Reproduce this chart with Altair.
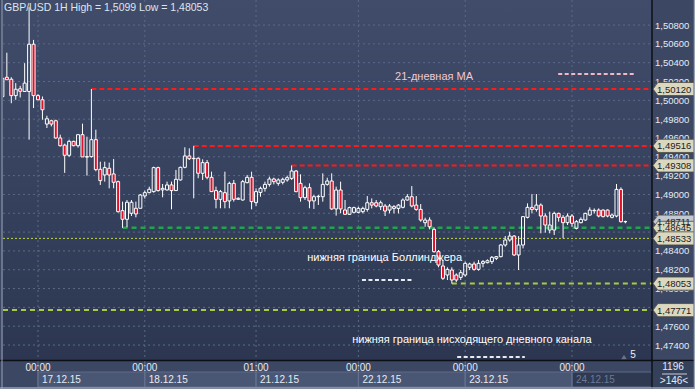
import altair as alt
import pandas as pd

# ---------------- data ----------------
opens = [1.50039,1.50245,1.50224,1.50050,1.50123,1.50094,1.50094,1.50596,1.50050,1.50006,
         1.49748,1.49783,1.49783,1.49600,1.49524,1.49416,1.49564,1.49518,1.49635,1.49402,
         1.49402,1.49582,1.49267,1.49207,1.49278,1.49218,1.49136,1.48828,1.48736,1.48800,
         1.48853,1.48853,1.48984,1.49019,1.49030,1.49285,1.49048,1.49048,1.49101,1.49041,
         1.49154,1.49288,1.49409,1.49384,1.49384,1.49225,1.49338,1.49182,1.49041,1.48948,
         1.49019,1.48931,1.49118,1.48948,1.48941,1.49125,1.49182,1.48913,1.49022,1.49065,
         1.49107,1.49164,1.49118,1.49129,1.49154,1.49171,1.49249,1.49118,1.48966,1.49072,
         1.48931,1.48976,1.48976,1.49107,1.49143,1.48846,1.49047,1.48835,1.48789,1.48810,
         1.48810,1.48817,1.48841,1.48912,1.48912,1.48870,1.48877,1.48834,1.48852,1.48852,
         1.48863,1.48941,1.48976,1.48887,1.48841,1.48700,1.48728,1.48629,1.48392,1.48240,
         1.48144,1.48197,1.48144,1.48119,1.48144,1.48226,1.48261,1.48204,1.48268,1.48275,
         1.48286,1.48321,1.48339,1.48463,1.48516,1.48558,1.48357,1.48463,1.48757,1.48863,
         1.48841,1.48887,1.48771,1.48622,1.48622,1.48799,1.48757,1.48700,1.48771,1.48640,
         1.48700,1.48728,1.48781,1.48827,1.48834,1.48834,1.48834,1.48757,1.48771,1.49054,
         1.48711]
highs = [1.50252,1.50506,1.50245,1.50183,1.50154,1.50395,1.50990,1.50642,1.50066,1.50041,
         1.49836,1.49794,1.49794,1.49635,1.49540,1.49582,1.49571,1.49635,1.49752,1.49614,
         1.50120,1.49688,1.49348,1.49348,1.49338,1.49377,1.49147,1.48924,1.48941,1.48941,
         1.48924,1.49005,1.49041,1.49083,1.49295,1.49295,1.49111,1.49136,1.49136,1.49260,
         1.49295,1.49501,1.49490,1.49516,1.49395,1.49373,1.49366,1.49242,1.49083,1.49048,
         1.49242,1.49136,1.49154,1.48970,1.49154,1.49207,1.49242,1.49065,1.49083,1.49136,
         1.49189,1.49178,1.49171,1.49178,1.49200,1.49308,1.49260,1.49214,1.49093,1.49118,
         1.48994,1.48994,1.49224,1.49178,1.49224,1.49083,1.49136,1.48941,1.48870,1.48870,
         1.48870,1.48870,1.48983,1.48958,1.48941,1.48934,1.48898,1.48898,1.48887,1.48898,
         1.48958,1.49004,1.49089,1.48983,1.48898,1.48753,1.48757,1.48650,1.48410,1.48303,
         1.48226,1.48226,1.48162,1.48197,1.48286,1.48275,1.48286,1.48303,1.48303,1.48310,
         1.48346,1.48346,1.48473,1.48558,1.48604,1.48569,1.48558,1.48771,1.48905,1.49004,
         1.49004,1.48905,1.48799,1.48817,1.48817,1.48806,1.48781,1.48799,1.48792,1.48728,
         1.48757,1.48806,1.48863,1.48852,1.48852,1.48841,1.48841,1.48799,1.49111,1.49075,
         1.48721]
lows = [1.49986,1.50216,1.49969,1.50006,1.50030,1.50094,1.49582,1.49918,1.50003,1.49794,
        1.49706,1.49723,1.49592,1.49508,1.49229,1.49399,1.49511,1.49497,1.49399,1.49200,
        1.49391,1.49246,1.49101,1.49136,1.49065,1.49065,1.48807,1.48645,1.48651,1.48771,
        1.48757,1.48853,1.48956,1.49012,1.49019,1.49030,1.48970,1.49041,1.48842,1.49041,
        1.49147,1.49278,1.49366,1.48959,1.49172,1.49154,1.49161,1.49030,1.48853,1.48853,
        1.48853,1.48853,1.48924,1.48941,1.48934,1.49118,1.48842,1.48878,1.48976,1.49030,
        1.49083,1.49107,1.49093,1.49107,1.49136,1.49154,1.49023,1.48923,1.48941,1.48853,
        1.48846,1.48888,1.48923,1.49093,1.48835,1.48775,1.48800,1.48782,1.48782,1.48800,
        1.48799,1.48799,1.48817,1.48852,1.48863,1.48834,1.48771,1.48799,1.48799,1.48799,
        1.48852,1.48934,1.48863,1.48827,1.48710,1.48657,1.48629,1.48381,1.48226,1.48091,
        1.48091,1.48053,1.48070,1.48091,1.48126,1.48197,1.48190,1.48190,1.48226,1.48268,
        1.48261,1.48303,1.48332,1.48445,1.48498,1.48346,1.48197,1.48427,1.48746,1.48799,
        1.48817,1.48587,1.48594,1.48587,1.48569,1.48711,1.48534,1.48675,1.48657,1.48629,
        1.48693,1.48721,1.48771,1.48799,1.48757,1.48757,1.48757,1.48746,1.48757,1.48700,
        1.48693]
closes = [1.50234,1.50219,1.50050,1.50118,1.50096,1.50183,1.50596,1.50050,1.50006,1.49900,
          1.49804,1.49748,1.49600,1.49518,1.49416,1.49564,1.49518,1.49635,1.49399,1.49397,
          1.49582,1.49264,1.49147,1.49285,1.49207,1.49129,1.48817,1.48736,1.48917,1.48917,
          1.48793,1.48994,1.49019,1.49055,1.49285,1.49041,1.49065,1.49101,1.49041,1.49161,
          1.49288,1.49409,1.49380,1.49380,1.49225,1.49338,1.49182,1.49030,1.48948,1.49030,
          1.48924,1.49118,1.48948,1.48959,1.49136,1.49182,1.48924,1.49030,1.49065,1.49107,
          1.49164,1.49136,1.49154,1.49161,1.49178,1.49249,1.49030,1.48966,1.49072,1.48931,
          1.48976,1.48980,1.49107,1.49143,1.48846,1.49047,1.48846,1.48789,1.48860,1.48860,
          1.48852,1.48852,1.48912,1.48887,1.48877,1.48912,1.48824,1.48877,1.48870,1.48887,
          1.48941,1.48976,1.48877,1.48841,1.48728,1.48728,1.48657,1.48392,1.48250,1.48109,
          1.48204,1.48091,1.48091,1.48169,1.48268,1.48261,1.48204,1.48268,1.48286,1.48296,
          1.48332,1.48339,1.48463,1.48516,1.48558,1.48357,1.48463,1.48764,1.48863,1.48841,
          1.48887,1.48771,1.48675,1.48675,1.48799,1.48757,1.48700,1.48771,1.48693,1.48711,
          1.48735,1.48799,1.48834,1.48831,1.48771,1.48764,1.48771,1.48781,1.49054,1.48711,
          1.48711]

price_ticks = [1.474, 1.476, 1.478, 1.480, 1.482, 1.484, 1.486, 1.488, 1.490, 1.492,
               1.494, 1.496, 1.498, 1.500, 1.502, 1.504, 1.506, 1.508]

day_bar = [8, 32, 57, 80, 104, 128]
day_time = ["00:00", "00:00", "01:00", "00:00", "00:00", "00:00"]
day_date = ["17.12.15", "18.12.15", "21.12.15", "22.12.15", "23.12.15", "24.12.15"]
day_end = [32, 57, 80, 104, 128, 146]
day_active = [1, 1, 1, 1, 1, 0]

red_levels = [1.50120, 1.49516, 1.49308]
red_start = [20, 43, 65]
green_level = [1.48645]
green_start = [27]
thin_level = [1.48533]
yg_levels = [1.48053, 1.47771]
yg_start = [101, 0.135]

tag_prices = [1.48711, 1.50120, 1.49516, 1.49308, 1.48645, 1.48533, 1.48053, 1.47771]
tag_kind = ["last", "lvl", "lvl", "lvl", "lvl", "lvl", "lvl", "lvl"]

note_text = ["21-дневная МА", "нижняя граница Боллинджера",
             "нижняя граница нисходящего дневного канала"]
note_bar = [97.0, 85.9, 105.5]
note_price = [1.50248, 1.48325, 1.47454]
note_color = ["#f3c9d3", "#ffffff", "#ffffff"]

key_lines_start = [124.9, 80.8, 102.2]
key_lines_end = [142.2, 92.0, 117.4]
key_lines_price = [1.50280, 1.48091, 1.47273]
key_lines_color = ["#f2b6c4", "#e8ecf2", "#e8ecf2"]

title_text = "GBP/USD 1H High = 1,5099 Low = 1,48053"

# ---------------- build ----------------
X0, X1 = 0.135, 145.98
Y0, Y1 = 1.47241, 1.51066
W, H = 649, 360
FONT = "Liberation Sans"
FS_T = 10.5     # title
FS_L = 9.5      # price labels / tags
FS_D = 10       # time / date labels

xs = alt.Scale(domain=[X0, X1], zero=False, nice=False, padding=0)
ys = alt.Scale(domain=[Y0, Y1], zero=False, nice=False, padding=0)

n = len(opens)
cd = pd.DataFrame({"i": list(range(n)), "o": opens, "h": highs, "l": lows, "c": closes})
cd["top"] = cd[["o", "c"]].max(axis=1)
cd["bot"] = cd[["o", "c"]].min(axis=1)
cd["fill"] = ["#e0102a" if c < o else "transparent" for o, c in zip(opens, closes)]

one = pd.DataFrame({"a": [0]})

grad = alt.LinearGradient(
    gradient="linear",
    stops=[alt.GradientStop(color="#404c69", offset=0),
           alt.GradientStop(color="#36425e", offset=0.5),
           alt.GradientStop(color="#2c3650", offset=1)],
    x1=0, x2=0, y1=0, y2=1)

bg = alt.Chart(one).mark_rect(color=grad).encode(
    x=alt.value(0), x2=alt.value(W), y=alt.value(0), y2=alt.value(H))

ticks_df = pd.DataFrame({"p": price_ticks,
                         "lab": [("%.5f" % v).replace(".", ",") for v in price_ticks]})
grid_h = alt.Chart(ticks_df).mark_rule(
    color="#5b6987", strokeDash=[2, 3], strokeWidth=1).encode(
    y=alt.Y("p:Q", scale=ys, axis=None), x=alt.value(0), x2=alt.value(W))
tick_labels = alt.Chart(ticks_df).mark_text(
    font=FONT, fontSize=FS_L, align="left", baseline="middle", color="#e6eaf2", dy=0.5).encode(
    y=alt.Y("p:Q", scale=ys, axis=None), x=alt.value(W + 3), text="lab:N")

days = pd.DataFrame({"i": day_bar, "e": day_end, "t": day_time, "d": day_date,
                     "act": day_active})
grid_v = alt.Chart(days).mark_rule(color="#5b6987", strokeDash=[2, 3], strokeWidth=1).encode(
    x=alt.X("i:Q", scale=xs, axis=None), y=alt.value(0), y2=alt.value(H))

wick_up = alt.Chart(cd).mark_rule(color="white", strokeWidth=1, clip=True).encode(
    x=alt.X("i:Q", scale=xs, axis=None), y=alt.Y("h:Q", scale=ys, axis=None), y2="top:Q")
wick_dn = alt.Chart(cd).mark_rule(color="white", strokeWidth=1, clip=True).encode(
    x=alt.X("i:Q", scale=xs, axis=None), y=alt.Y("bot:Q", scale=ys, axis=None), y2="l:Q")
bodies = alt.Chart(cd).mark_bar(size=3, stroke="white", strokeWidth=1, clip=True).encode(
    x=alt.X("i:Q", scale=xs, axis=None), y=alt.Y("top:Q", scale=ys, axis=None), y2="bot:Q",
    fill=alt.Fill("fill:N", scale=None))


def hlines(prices, starts, color, width, dash):
    df = pd.DataFrame({"p": prices, "s": starts, "e": [X1] * len(prices)})
    return alt.Chart(df).mark_rule(color=color, strokeWidth=width, strokeDash=dash).encode(
        x=alt.X("s:Q", scale=xs, axis=None), x2="e:Q",
        y=alt.Y("p:Q", scale=ys, axis=None))


red_l = hlines(red_levels, red_start, "#ff1a1a", 2, [5, 3])
green_l = hlines(green_level, green_start, "#1fa54c", 2.5, [5, 4])
thin_l = hlines(thin_level, [X0], "#bcd445", 1, [2, 2])
yg_l = hlines(yg_levels, yg_start, "#a9cc3e", 2, [5, 4])

kl = pd.DataFrame({"s": key_lines_start, "e": key_lines_end, "p": key_lines_price,
                   "col": key_lines_color})
key_l = alt.Chart(kl).mark_rule(strokeWidth=2, strokeDash=[4, 2.5]).encode(
    x=alt.X("s:Q", scale=xs, axis=None), x2="e:Q", y=alt.Y("p:Q", scale=ys, axis=None),
    color=alt.Color("col:N", scale=None))

notes = pd.DataFrame({"t": note_text, "i": note_bar, "p": note_price, "col": note_color})
notes_t = alt.Chart(notes).mark_text(font=FONT, fontSize=11, align="center",
                                     baseline="middle").encode(
    x=alt.X("i:Q", scale=xs, axis=None), y=alt.Y("p:Q", scale=ys, axis=None),
    text="t:N", color=alt.Color("col:N", scale=None))

title_t = alt.Chart(one).mark_text(text=title_text, font=FONT, fontSize=FS_T, align="left",
                                   baseline="middle", color="#dfe5ef").encode(
    x=alt.value(1), y=alt.value(8))

# price tags
tg = pd.DataFrame({"p": tag_prices, "k": tag_kind,
                   "lab": [("%.5f" % v).replace(".", ",") for v in tag_prices]})
tg["fillc"] = ["#c3c7cf" if k == "last" else "#dcd8bf" for k in tag_kind]
TAG = "M-1,0L-0.76,-0.32L1,-0.32L1,0.32L-0.76,0.32Z"
tags = alt.Chart(tg).mark_point(shape=TAG, size=1681, filled=True, opacity=1,
                                stroke="#4a4a40", strokeWidth=0.8, clip=False).encode(
    x=alt.value(670.5), y=alt.Y("p:Q", scale=ys, axis=None),
    fill=alt.Fill("fillc:N", scale=None))
tag_t = alt.Chart(tg).mark_text(font=FONT, fontSize=FS_L, align="left", baseline="middle",
                                color="#1c1c1c", dy=0.5).encode(
    x=alt.value(654), y=alt.Y("p:Q", scale=ys, axis=None), text="lab:N")

# bottom time panel
boxes = alt.Chart(days).mark_rect(stroke="#5e6b88", strokeWidth=1).encode(
    x=alt.X("i:Q", scale=xs, axis=None), x2="e:Q",
    y=alt.value(372), y2=alt.value(387),
    fill=alt.condition("datum.act == 1", alt.value("#4a5774"), alt.value("#2f3a52")))
sep_v = alt.Chart(days).mark_rule(color="#65728f", strokeWidth=1).encode(
    x=alt.X("i:Q", scale=xs, axis=None), y=alt.value(361), y2=alt.value(387))
time_t = alt.Chart(days).mark_text(font=FONT, fontSize=FS_D, align="center",
                                   baseline="middle", color="#e6eaf2").encode(
    x=alt.X("i:Q", scale=xs, axis=None), y=alt.value(368), text="t:N")
date_t = alt.Chart(days).mark_text(font=FONT, fontSize=FS_D, align="left", baseline="middle",
                                   dx=4).encode(
    x=alt.X("i:Q", scale=xs, axis=None), y=alt.value(380), text="d:N",
    color=alt.condition("datum.act == 1", alt.value("#e6eaf2"), alt.value("#6c7892")))

# separators and frame
sep_right = alt.Chart(one).mark_rule(color="#0c0f16", strokeWidth=1.5).encode(
    x=alt.value(W), y=alt.value(0), y2=alt.value(389))
sep_bottom = alt.Chart(one).mark_rule(color="#0c0f16", strokeWidth=1.5).encode(
    x=alt.value(-3), x2=alt.value(692), y=alt.value(H + 0.5))
frame_l = alt.Chart(one).mark_rule(color="#9aa3b6", strokeWidth=1).encode(
    x=alt.value(-1), y=alt.value(0), y2=alt.value(389))
frame_r = alt.Chart(one).mark_rule(color="#9aa3b6", strokeWidth=1.5).encode(
    x=alt.value(691.5), y=alt.value(0), y2=alt.value(389))
frame_b = alt.Chart(one).mark_rule(color="#9aa3b6", strokeWidth=1.5).encode(
    x=alt.value(-3), x2=alt.value(692), y=alt.value(388))

corner = alt.Chart(one).mark_rect(color="#35405a").encode(
    x=alt.value(W + 1), x2=alt.value(691), y=alt.value(361.5), y2=alt.value(387))
c1 = alt.Chart(one).mark_text(text="1196", font=FONT, fontSize=FS_D, color="#e6eaf2",
                              baseline="middle").encode(x=alt.value(670), y=alt.value(367))
c_line = alt.Chart(one).mark_rule(color="#c8ccd6", strokeWidth=1).encode(
    x=alt.value(659), x2=alt.value(684), y=alt.value(374))
c2 = alt.Chart(one).mark_text(text=">146<", font=FONT, fontSize=FS_D, color="#e6eaf2",
                              baseline="middle").encode(x=alt.value(671), y=alt.value(381))
five = alt.Chart(one).mark_text(text="5", font=FONT, fontSize=FS_D, color="#eef0f4",
                                baseline="middle").encode(x=alt.value(630), y=alt.value(355))
tri = alt.Chart(one).mark_point(shape="triangle-up", size=30, filled=True, opacity=1,
                                color="#6a7286").encode(x=alt.value(621), y=alt.value(357))

chart = alt.layer(
    bg, grid_h, grid_v, thin_l, green_l, yg_l, red_l, key_l,
    wick_up, wick_dn, bodies, notes_t, title_t,
    boxes, sep_v, time_t, date_t, five, tri,
    sep_right, sep_bottom, corner, c1, c_line, c2,
    tick_labels, tags, tag_t, frame_l, frame_r, frame_b
).properties(
    width=W, height=H, autosize="none",
    padding={"left": 3, "top": 0, "right": 43, "bottom": 29},
    background="#3b4763"
).configure_view(stroke=None)

chart.save("out.html", embed_options={"renderer": "svg", "actions": False})
